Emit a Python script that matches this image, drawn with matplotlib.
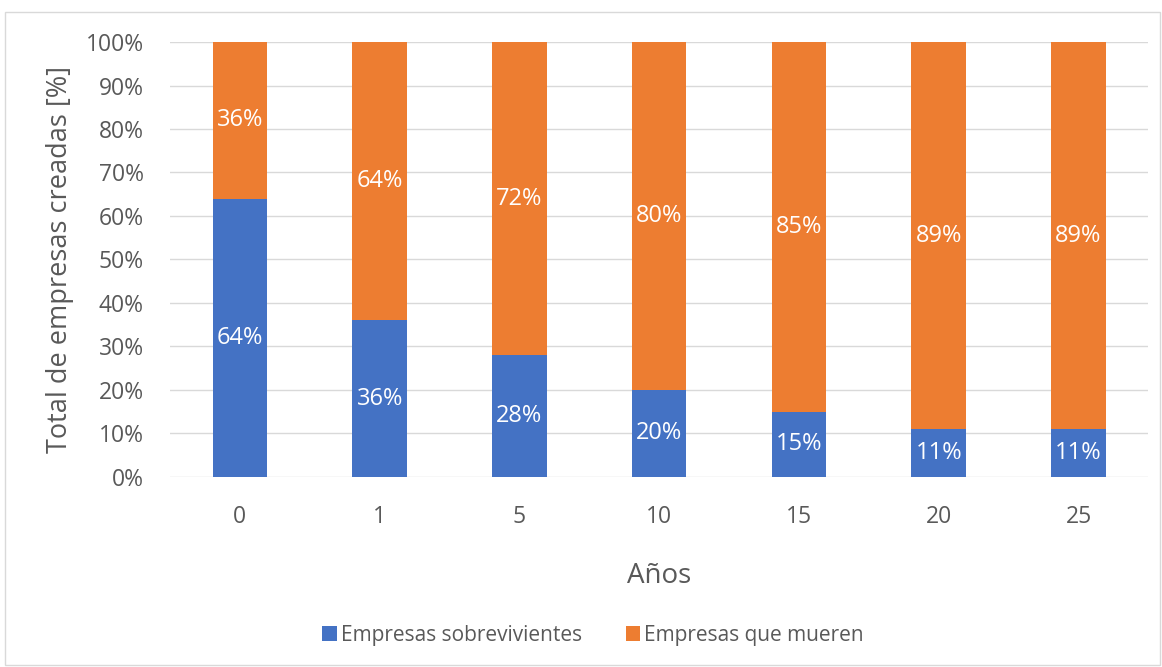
import matplotlib
matplotlib.use("Agg")
from matplotlib import pyplot as plt
from matplotlib.patches import Rectangle
import numpy as np

anios = ["0", "1", "5", "10", "15", "20", "25"]
sobreviven = [64, 36, 28, 20, 15, 11, 11]
mueren = [36, 64, 72, 80, 85, 89, 89]

azul = "#4472C4"
naranja = "#ED7D31"
gris = "#595959"

plt.rcParams["font.family"] = ["Open Sans", "DejaVu Sans"]

fig = plt.figure(figsize=(11.62, 6.67), dpi=100)
ax = fig.add_axes([0.1463, 0.285, 0.842, 0.652])

# marco del gráfico
fig.patches.append(Rectangle((5 / 1162, 2 / 667), 1155 / 1162, 653 / 667,
                             transform=fig.transFigure, fill=False,
                             edgecolor="#D9D9D9", linewidth=1))

x = np.arange(len(anios))
ancho = 0.39
b1 = ax.bar(x, sobreviven, ancho, color=azul, label="Empresas sobrevivientes", zorder=3)
b2 = ax.bar(x, mueren, ancho, bottom=sobreviven, color=naranja,
            label="Empresas que mueren", zorder=3)

for i in range(len(anios)):
    ax.text(x[i], sobreviven[i] / 2, f"{sobreviven[i]}%", ha="center", va="center",
            color="white", fontsize=17, zorder=4)
    ax.text(x[i], sobreviven[i] + mueren[i] / 2, f"{mueren[i]}%", ha="center",
            va="center", color="white", fontsize=17, zorder=4)

ax.set_xlim(-0.5, len(anios) - 0.5)
ax.set_ylim(0, 100)
ax.set_yticks(range(0, 101, 10))
ax.set_yticklabels([f"{v}%" for v in range(0, 101, 10)])
ax.set_xticks(x)
ax.set_xticklabels(anios)
ax.tick_params(axis="both", length=0, labelsize=16.5, colors=gris)
ax.tick_params(axis="x", pad=20)
ax.tick_params(axis="y", pad=19)
ax.grid(axis="y", color="#D9D9D9", linewidth=1, zorder=0)
for s in ax.spines.values():
    s.set_visible(False)

ax.set_ylabel("Total de empresas creadas [%]", fontsize=19.5, color=gris, labelpad=8)
ax.set_xlabel("Años", fontsize=20, color=gris, labelpad=24)

fig.legend(handles=[b1, b2], loc="center", bbox_to_anchor=(593 / 1162, 1 - 635 / 667),
           ncol=2, frameon=False, fontsize=15, labelcolor=gris,
           handlelength=0.7, handleheight=0.7, handletextpad=0.2, columnspacing=2.1)

fig.savefig("out.png", dpi=100)
